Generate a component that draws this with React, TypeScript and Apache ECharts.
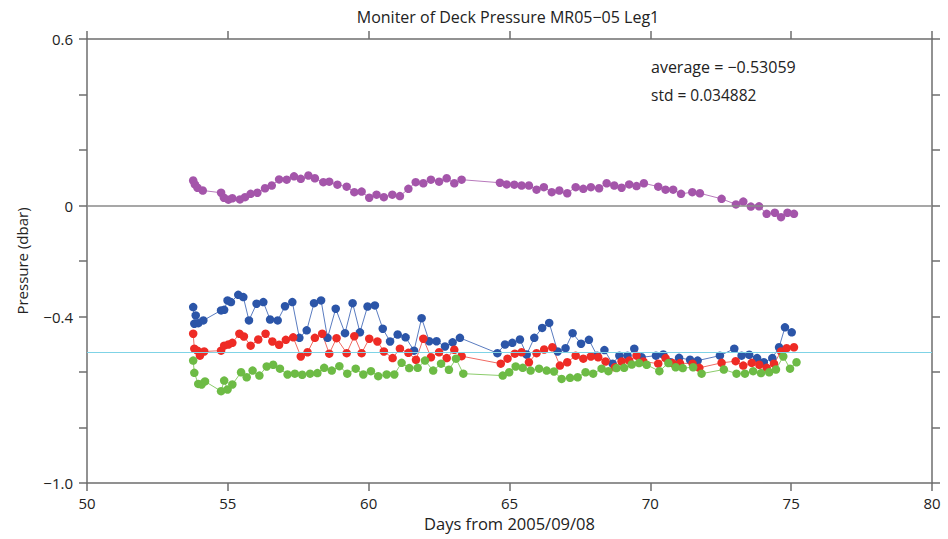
import React, { useEffect, useRef } from "react";
import * as echarts from "echarts";

const TITLE = "Moniter of Deck Pressure MR05\u221205 Leg1";
const X_LABEL = "Days from 2005/09/08";
const Y_LABEL = "Pressure (dbar)";
const AVG_TEXT = "average = \u22120.53059";
const STD_TEXT = "std = 0.034882";
const AVERAGE = -0.53059;
const Y_TICK_LABELS: [number, string][] = [
  [0.6, "0.6"],
  [0, "0"],
  [-0.4, "\u22120.4"],
  [-1.0, "\u22121.0"],
];

const purpleDays = [53.77, 53.83, 53.92, 54.11, 54.76, 54.86, 55.02, 55.16, 55.43, 55.61, 55.81, 56.05, 56.32, 56.56, 56.82, 57.09, 57.35, 57.59, 57.86, 58.09, 58.39, 58.6, 58.89, 59.22, 59.49, 59.75, 60.02, 60.28, 60.54, 60.84, 61.11, 61.41, 61.67, 61.94, 62.21, 62.5, 62.77, 63.04, 63.3, 64.66, 64.9, 65.17, 65.43, 65.69, 65.96, 66.22, 66.5, 66.77, 67.05, 67.35, 67.62, 67.89, 68.18, 68.45, 68.72, 68.98, 69.25, 69.51, 69.77, 70.28, 70.54, 70.81, 71.09, 71.49, 71.76, 72.53, 73.04, 73.3, 73.57, 73.86, 74.13, 74.42, 74.64, 74.87, 75.1];
const purpleVals = [0.09, 0.076, 0.064, 0.054, 0.046, 0.028, 0.021, 0.026, 0.022, 0.03, 0.042, 0.046, 0.062, 0.072, 0.094, 0.093, 0.105, 0.096, 0.108, 0.098, 0.084, 0.086, 0.075, 0.068, 0.048, 0.05, 0.028, 0.039, 0.03, 0.039, 0.034, 0.06, 0.084, 0.08, 0.093, 0.086, 0.098, 0.08, 0.093, 0.082, 0.076, 0.075, 0.072, 0.072, 0.057, 0.066, 0.048, 0.054, 0.044, 0.066, 0.06, 0.066, 0.062, 0.08, 0.072, 0.064, 0.076, 0.07, 0.08, 0.068, 0.057, 0.057, 0.042, 0.048, 0.044, 0.024, 0.004, 0.014, -0.004, -0.003, -0.03, -0.026, -0.042, -0.026, -0.03];

const blueDays = [53.77, 53.81, 53.86, 53.95, 54.13, 54.76, 54.87, 54.99, 55.11, 55.37, 55.55, 55.75, 56.02, 56.26, 56.5, 56.77, 57.03, 57.29, 57.54, 57.8, 58.06, 58.31, 58.54, 58.83, 59.16, 59.43, 59.69, 59.96, 60.22, 60.5, 60.76, 61.03, 61.31, 61.61, 61.88, 62.15, 62.41, 62.71, 62.98, 63.24, 64.57, 64.84, 65.1, 65.37, 65.61, 65.88, 66.16, 66.41, 66.71, 66.99, 67.24, 67.54, 67.82, 68.11, 68.37, 68.66, 68.9, 69.19, 69.43, 69.69, 70.2, 70.46, 70.72, 71.02, 71.41, 71.68, 72.47, 72.98, 73.24, 73.51, 73.79, 74.03, 74.33, 74.57, 74.78, 75.02];
const blueVals = [-0.366, -0.426, -0.396, -0.424, -0.414, -0.378, -0.376, -0.342, -0.348, -0.322, -0.33, -0.414, -0.354, -0.348, -0.411, -0.414, -0.363, -0.348, -0.477, -0.45, -0.352, -0.342, -0.477, -0.372, -0.46, -0.352, -0.457, -0.364, -0.36, -0.444, -0.49, -0.465, -0.475, -0.523, -0.406, -0.489, -0.489, -0.508, -0.493, -0.477, -0.532, -0.501, -0.495, -0.483, -0.537, -0.477, -0.441, -0.423, -0.526, -0.514, -0.46, -0.498, -0.484, -0.541, -0.521, -0.57, -0.541, -0.541, -0.516, -0.547, -0.541, -0.537, -0.565, -0.549, -0.556, -0.559, -0.541, -0.516, -0.541, -0.538, -0.55, -0.565, -0.55, -0.511, -0.439, -0.457];

const redDays = [53.77, 53.81, 53.92, 54.01, 54.16, 54.76, 54.87, 55.02, 55.16, 55.41, 55.57, 55.81, 56.08, 56.34, 56.58, 56.82, 57.06, 57.32, 57.59, 57.83, 58.09, 58.35, 58.6, 58.86, 59.22, 59.49, 59.75, 60.02, 60.31, 60.54, 60.85, 61.11, 61.41, 61.68, 61.94, 62.21, 62.5, 62.77, 63.04, 63.3, 64.69, 64.93, 65.19, 65.43, 65.69, 65.96, 66.23, 66.52, 66.79, 67.05, 67.35, 67.62, 67.89, 68.15, 68.41, 68.74, 68.98, 69.25, 69.51, 69.75, 70.28, 70.54, 70.79, 71.05, 71.5, 71.74, 72.53, 73.03, 73.3, 73.6, 73.87, 74.13, 74.39, 74.64, 74.84, 75.1];
const redVals = [-0.462, -0.516, -0.523, -0.541, -0.526, -0.523, -0.505, -0.501, -0.495, -0.462, -0.472, -0.505, -0.483, -0.462, -0.49, -0.502, -0.484, -0.475, -0.544, -0.529, -0.477, -0.462, -0.534, -0.478, -0.532, -0.471, -0.532, -0.48, -0.49, -0.526, -0.55, -0.516, -0.531, -0.556, -0.48, -0.547, -0.529, -0.55, -0.52, -0.543, -0.57, -0.552, -0.534, -0.529, -0.565, -0.532, -0.519, -0.511, -0.577, -0.565, -0.541, -0.552, -0.544, -0.547, -0.562, -0.583, -0.562, -0.559, -0.541, -0.562, -0.57, -0.55, -0.568, -0.568, -0.57, -0.585, -0.567, -0.561, -0.577, -0.567, -0.574, -0.585, -0.57, -0.526, -0.514, -0.511];

const greenDays = [53.77, 53.81, 53.95, 54.07, 54.19, 54.76, 54.87, 54.99, 55.16, 55.47, 55.67, 55.88, 56.12, 56.38, 56.61, 56.85, 57.12, 57.38, 57.64, 57.92, 58.18, 58.42, 58.69, 58.96, 59.24, 59.54, 59.81, 60.08, 60.34, 60.64, 60.91, 61.17, 61.44, 61.74, 62.0, 62.29, 62.57, 62.85, 63.1, 63.36, 64.76, 64.99, 65.22, 65.47, 65.75, 66.05, 66.32, 66.58, 66.85, 67.15, 67.42, 67.7, 67.97, 68.27, 68.51, 68.8, 69.07, 69.34, 69.6, 69.87, 70.32, 70.64, 70.9, 71.15, 71.52, 71.82, 72.61, 73.06, 73.36, 73.65, 73.93, 74.22, 74.46, 74.72, 74.96, 75.19];
const greenVals = [-0.559, -0.603, -0.643, -0.645, -0.634, -0.669, -0.631, -0.663, -0.645, -0.601, -0.619, -0.595, -0.613, -0.58, -0.574, -0.588, -0.609, -0.606, -0.61, -0.606, -0.604, -0.585, -0.595, -0.579, -0.606, -0.588, -0.609, -0.597, -0.615, -0.609, -0.609, -0.567, -0.586, -0.585, -0.559, -0.595, -0.57, -0.592, -0.552, -0.606, -0.613, -0.601, -0.58, -0.585, -0.595, -0.588, -0.595, -0.598, -0.625, -0.621, -0.619, -0.601, -0.606, -0.588, -0.597, -0.586, -0.585, -0.573, -0.568, -0.574, -0.597, -0.568, -0.583, -0.586, -0.583, -0.606, -0.591, -0.606, -0.606, -0.597, -0.604, -0.601, -0.591, -0.544, -0.588, -0.565];

const FONT = "Open Sans";
const AXIS_COLOR = "#6e6e6e";
const TEXT_COLOR = "#222";

function pairs(days: number[], vals: number[]) {
  return days.map((d, i) => [d, vals[i]]);
}

function makeSeries(name: string, days: number[], vals: number[], color: string, lineColor: string) {
  return {
    name,
    type: "line",
    data: pairs(days, vals),
    symbol: "circle",
    symbolSize: 8.5,
    showSymbol: true,
    itemStyle: { color },
    lineStyle: { color: lineColor, width: 1 },
    xAxisIndex: 0,
    yAxisIndex: 0,
  };
}

export default function App() {
  const ref = useRef<HTMLDivElement>(null);
  useEffect(() => {
    if (!ref.current) return;
    const chart = echarts.init(ref.current, undefined, { renderer: "svg" });
    const axisLine = { show: true, onZero: false, lineStyle: { color: AXIS_COLOR, width: 1.5 } };
    const axisTick = { show: true, inside: false, length: 8, lineStyle: { color: AXIS_COLOR, width: 1.5 } };
    const labelStyle = { color: TEXT_COLOR, fontFamily: FONT, fontSize: 15 };
    chart.setOption({
      animation: false,
      backgroundColor: "#ffffff",
      grid: { left: 87, right: 16, top: 39, bottom: 56, containLabel: false },
      xAxis: [
        {
          type: "value",
          min: 50,
          max: 80,
          interval: 5,
          position: "bottom",
          name: X_LABEL,
          nameLocation: "middle",
          nameGap: 32,
          nameTextStyle: { ...labelStyle, fontSize: 16.5 },
          axisLine,
          axisTick,
          axisLabel: { ...labelStyle, margin: 12 },
          splitLine: { show: false },
        },
        {
          type: "value",
          min: 50,
          max: 80,
          interval: 5,
          position: "top",
          axisLine,
          axisTick,
          axisLabel: { show: false },
          splitLine: { show: false },
        },
      ],
      yAxis: [
        {
          type: "value",
          min: -1.0,
          max: 0.6,
          interval: 0.2,
          position: "left",
          name: Y_LABEL,
          nameLocation: "middle",
          nameGap: 58,
          nameRotate: 90,
          nameTextStyle: { ...labelStyle },
          axisLine,
          axisTick,
          axisLabel: {
            ...labelStyle,
            margin: 14,
            formatter: (v: number) => {
              const hit = Y_TICK_LABELS.find(([t]) => Math.abs(t - v) < 1e-6);
              return hit ? hit[1] : "";
            },
          },
          splitLine: { show: false },
        },
        {
          type: "value",
          min: -1.0,
          max: 0.6,
          interval: 0.2,
          position: "right",
          axisLine,
          axisTick,
          axisLabel: { show: false },
          splitLine: { show: false },
        },
      ],
      graphic: [
        {
          type: "text",
          x: 508,
          y: 17,
          style: {
            text: TITLE,
            fill: TEXT_COLOR,
            font: `16px "${FONT}"`,
            textAlign: "center",
            textVerticalAlign: "middle",
          },
        },
        {
          type: "text",
          left: 651,
          top: 59,
          style: { text: AVG_TEXT, fill: TEXT_COLOR, font: `16px "${FONT}"` },
        },
        {
          type: "text",
          left: 651,
          top: 87,
          style: { text: STD_TEXT, fill: TEXT_COLOR, font: `15.5px "${FONT}"` },
        },
      ],
      series: [
        {
          name: "ref",
          type: "line",
          data: [],
          markLine: {
            silent: true,
            symbol: ["none", "none"],
            label: { show: false },
            data: [
              { yAxis: 0, lineStyle: { color: "#8a8a8a", width: 1.5, type: "solid" } },
              { yAxis: AVERAGE, lineStyle: { color: "#7fd3e6", width: 1.2, type: "solid" } },
            ],
          },
        },
        makeSeries("purple", purpleDays, purpleVals, "#a455aa", "#b87abc"),
        makeSeries("blue", blueDays, blueVals, "#2b55a8", "#5a7cc0"),
        makeSeries("red", redDays, redVals, "#ee2b25", "#f06a63"),
        makeSeries("green", greenDays, greenVals, "#6dbb45", "#8ccc6c"),
      ],
    });
    return () => chart.dispose();
  }, []);
  return (
    <div
      ref={ref}
      style={{ position: "absolute", left: 0, top: 0, width: 948, height: 539, background: "#fff" }}
    />
  );
}
